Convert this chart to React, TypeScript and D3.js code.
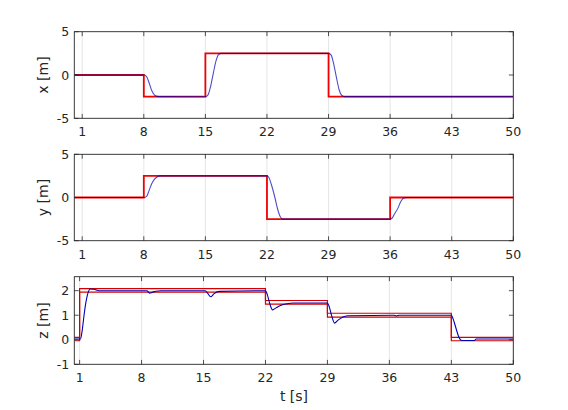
import * as d3 from "d3";
import React from "react";

// time axis
const tTicks = [1, 8, 15, 22, 29, 36, 43, 50];

// x position: reference (step) and response
const xRefT = [0.1, 8, 15, 29, 50];
const xRef = [0, -2.5, 2.5, -2.5, -2.5];
const xRespT = [0.1, 8.0, 8.3, 8.6, 8.9, 9.2, 9.5, 9.8, 15.0, 15.3, 15.6, 15.9, 16.2, 16.5, 16.8, 29.0, 29.3, 29.6, 29.9, 30.2, 30.5, 30.8, 50];
const xResp = [0, 0, -0.15, -0.9, -1.8, -2.3, -2.47, -2.5, -2.52, -2.3, -1.3, 0.2, 1.6, 2.35, 2.5, 2.5, 2.3, 1.2, -0.3, -1.7, -2.35, -2.5, -2.5];

// y position
const yRefT = [0.1, 8, 22, 36, 50];
const yRef = [0, 2.5, -2.5, 0, 0];
const yRespT = [0.1, 8.0, 8.3, 8.6, 8.9, 9.2, 9.5, 9.9, 22.0, 22.2, 22.5, 22.9, 23.2, 23.5, 23.8, 36.0, 36.2, 36.5, 36.9, 37.2, 37.5, 37.9, 50];
const yResp = [0, 0, 0.1, 0.8, 1.6, 2.1, 2.38, 2.5, 2.5, 2.35, 1.5, 0.0, -1.3, -2.2, -2.5, -2.5, -2.4, -1.9, -1.2, -0.5, -0.1, 0, 0];

// z position: tolerance band around the reference and response
const zRefT = [0.4, 1, 22, 29, 43, 50];
const zUpper = [0.1, 2.08, 1.6, 1.08, 0.1, 0.1];
const zLower = [-0.04, 1.94, 1.45, 0.92, -0.04, -0.04];
const zRespT = [0.4, 1.1, 1.3, 1.5, 1.7, 1.9, 2.2, 2.6, 3.2, 8.6, 8.9, 9.2, 9.6, 10.2, 15.2, 15.5, 15.8, 16.2, 16.8, 22.0, 22.2, 22.5, 22.8, 23.2, 23.7, 24.3, 25.2, 29.0, 29.2, 29.5, 29.8, 30.2, 30.7, 31.3, 36.5, 36.8, 37.1, 43.0, 43.2, 43.5, 43.8, 44.1, 44.4, 45.6, 45.8, 50];
const zResp = [0.03, 0.03, 0.4, 1.0, 1.5, 1.85, 2.07, 2.06, 2.0, 2.0, 1.9, 1.93, 1.98, 2.0, 2.0, 1.88, 1.75, 1.88, 1.97, 2.0, 1.85, 1.45, 1.22, 1.3, 1.4, 1.46, 1.5, 1.5, 1.35, 0.95, 0.68, 0.8, 0.92, 0.98, 1.0, 0.97, 1.0, 1.0, 0.85, 0.5, 0.15, -0.02, -0.03, -0.03, 0.03, 0.03];

const W = 568, H = 410;
const left = 74.3, right = 513.3;
const axisColor = "#262626";
const font = "DejaVu Sans";
const red = "#f00000";
const blue = "#0000b4";

type Series = { t: number[]; v: number[]; color: string; width: number; step?: boolean; opacity?: number };

function Panel(props: {
  top: number; bottom: number; tStart: number; yDomain: [number, number];
  yTicks: number[]; label: string; series: Series[]; id: string;
}) {
  const { top, bottom, tStart, yDomain, yTicks, label, series, id } = props;
  const x = d3.scaleLinear().domain([tStart, 50]).range([left, right]);
  const y = d3.scaleLinear().domain(yDomain).range([bottom, top]);
  const tl = 4.4;
  return (
    <g>
      <defs>
        <clipPath id={id}>
          <rect x={left} y={top} width={right - left} height={bottom - top} />
        </clipPath>
      </defs>
      <rect x={left} y={top} width={right - left} height={bottom - top} fill="#fff" />
      {tTicks.map(t => (
        <line key={"g" + t} x1={x(t)} x2={x(t)} y1={top} y2={bottom} stroke="#dfdfdf" strokeWidth={0.8} />
      ))}
      <g clipPath={`url(#${id})`}>
        {series.map((s, i) => {
          const pts = s.t.map((t, k) => [t, s.v[k]] as [number, number]);
          const gen = d3.line<[number, number]>()
            .x(d => x(d[0]))
            .y(d => y(d[1]))
            .curve(s.step ? d3.curveStepAfter : d3.curveMonotoneX);
          return <path key={i} d={gen(pts) || ""} fill="none" stroke={s.color} strokeWidth={s.width} strokeOpacity={s.opacity ?? 1} />;
        })}
      </g>
      <rect x={left} y={top} width={right - left} height={bottom - top} fill="none" stroke={axisColor} strokeWidth={0.9} />
      {tTicks.map(t => (
        <g key={"t" + t}>
          <line x1={x(t)} x2={x(t)} y1={bottom} y2={bottom - tl} stroke={axisColor} strokeWidth={0.8} />
          <line x1={x(t)} x2={x(t)} y1={top} y2={top + tl} stroke={axisColor} strokeWidth={0.8} />
          <text x={x(t)} y={bottom + 18} textAnchor="middle" fontSize={12.5} fill={axisColor} fontFamily={font}>{t}</text>
        </g>
      ))}
      {yTicks.map(v => (
        <g key={"y" + v}>
          <line x1={left} x2={left + tl} y1={y(v)} y2={y(v)} stroke={axisColor} strokeWidth={0.8} />
          <line x1={right} x2={right - tl} y1={y(v)} y2={y(v)} stroke={axisColor} strokeWidth={0.8} />
          <text x={left - 5} y={y(v) + 4.5} textAnchor="end" fontSize={12.5} fill={axisColor} fontFamily={font}>{v}</text>
        </g>
      ))}
      <text transform={`translate(48,${(top + bottom) / 2}) rotate(-90)`} textAnchor="middle" fontSize={14} fill={axisColor} fontFamily={font}>{label}</text>
    </g>
  );
}

export default function App() {
  return (
    <svg width={W} height={H} style={{ position: "absolute", left: 0, top: 0, background: "#fff" }}>
      <rect width={W} height={H} fill="#fff" />
      <Panel id="c1" top={31.7} bottom={118.3} tStart={0.1} yDomain={[-5, 5]} yTicks={[-5, 0, 5]} label="x [m]"
        series={[
          { t: xRefT, v: xRef, color: red, width: 1.8, step: true },
          { t: xRespT, v: xResp, color: blue, width: 1.1, opacity: 0.7 },
        ]} />
      <Panel id="c2" top={154.3} bottom={240.7} tStart={0.1} yDomain={[-5, 5]} yTicks={[-5, 0, 5]} label="y [m]"
        series={[
          { t: yRefT, v: yRef, color: red, width: 1.8, step: true },
          { t: yRespT, v: yResp, color: blue, width: 1.1, opacity: 0.7 },
        ]} />
      <Panel id="c3" top={276.7} bottom={364.3} tStart={0.4} yDomain={[-1, 2.57]} yTicks={[-1, 0, 1, 2]} label="z [m]"
        series={[
          { t: zRefT, v: zUpper, color: "#d40000", width: 1.2, step: true },
          { t: zRefT, v: zLower, color: "#d40000", width: 1.2, step: true },
          { t: zRespT, v: zResp, color: blue, width: 1.1 },
        ]} />
      <text x={294} y={401} textAnchor="middle" fontSize={14} fill={axisColor} fontFamily={font}>t [s]</text>
    </svg>
  );
}
